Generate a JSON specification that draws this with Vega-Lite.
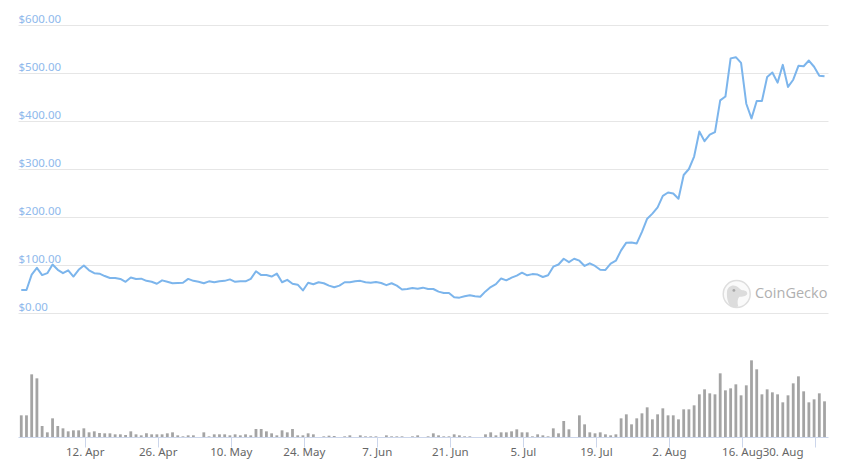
{
"$schema":"https://vega.github.io/schema/vega-lite/v6.json",
"background":"white",
"padding":{"left":18,"top":13,"right":15,"bottom":5},
"config":{"view":{"stroke":null},"font":"Noto Sans"},
"spacing":44,
"datasets":{"logo":[{"date":"2020-08-15T00:00:00Z","price":39.6,"label":"CoinGecko"}],"eye":[{"date":"2020-08-14T11:00:00Z","price":47}],"logotext":[{"date":"2020-08-18T12:00:00Z","price":40,"label":"CoinGecko"}]},
"data":{"values":[
{"date":"2020-03-30T20:00:00Z","price":48,"volume":65},
{"date":"2020-03-31T20:00:00Z","price":48,"volume":65},
{"date":"2020-04-01T20:00:00Z","price":80,"volume":188},
{"date":"2020-04-02T20:00:00Z","price":94,"volume":176},
{"date":"2020-04-03T20:00:00Z","price":79,"volume":33},
{"date":"2020-04-04T20:00:00Z","price":83,"volume":14},
{"date":"2020-04-05T20:00:00Z","price":101,"volume":56},
{"date":"2020-04-06T20:00:00Z","price":90,"volume":33},
{"date":"2020-04-07T20:00:00Z","price":83,"volume":26},
{"date":"2020-04-08T20:00:00Z","price":89,"volume":17},
{"date":"2020-04-09T20:00:00Z","price":76,"volume":20},
{"date":"2020-04-10T20:00:00Z","price":90,"volume":20},
{"date":"2020-04-11T20:00:00Z","price":99,"volume":26},
{"date":"2020-04-12T20:00:00Z","price":89,"volume":14},
{"date":"2020-04-13T20:00:00Z","price":83,"volume":17},
{"date":"2020-04-14T20:00:00Z","price":82,"volume":12},
{"date":"2020-04-15T20:00:00Z","price":77,"volume":11},
{"date":"2020-04-16T20:00:00Z","price":73,"volume":11},
{"date":"2020-04-17T20:00:00Z","price":73,"volume":8},
{"date":"2020-04-18T20:00:00Z","price":71,"volume":8},
{"date":"2020-04-19T20:00:00Z","price":65,"volume":6},
{"date":"2020-04-20T20:00:00Z","price":74,"volume":17},
{"date":"2020-04-21T20:00:00Z","price":71,"volume":8},
{"date":"2020-04-22T20:00:00Z","price":71.5,"volume":5},
{"date":"2020-04-23T20:00:00Z","price":67,"volume":11},
{"date":"2020-04-24T20:00:00Z","price":65,"volume":8},
{"date":"2020-04-25T20:00:00Z","price":61,"volume":8},
{"date":"2020-04-26T20:00:00Z","price":68,"volume":8},
{"date":"2020-04-27T20:00:00Z","price":65,"volume":11},
{"date":"2020-04-28T20:00:00Z","price":62,"volume":14},
{"date":"2020-04-29T20:00:00Z","price":62.5,"volume":5},
{"date":"2020-04-30T20:00:00Z","price":63,"volume":2},
{"date":"2020-05-01T20:00:00Z","price":71,"volume":5},
{"date":"2020-05-02T20:00:00Z","price":67,"volume":5},
{"date":"2020-05-03T20:00:00Z","price":65,"volume":0},
{"date":"2020-05-04T20:00:00Z","price":62,"volume":14},
{"date":"2020-05-05T20:00:00Z","price":66,"volume":2},
{"date":"2020-05-06T20:00:00Z","price":64,"volume":8},
{"date":"2020-05-07T20:00:00Z","price":66,"volume":8},
{"date":"2020-05-08T20:00:00Z","price":67,"volume":8},
{"date":"2020-05-09T20:00:00Z","price":70,"volume":5},
{"date":"2020-05-10T20:00:00Z","price":65,"volume":8},
{"date":"2020-05-11T20:00:00Z","price":66,"volume":5},
{"date":"2020-05-12T20:00:00Z","price":66,"volume":8},
{"date":"2020-05-13T20:00:00Z","price":71,"volume":5},
{"date":"2020-05-14T20:00:00Z","price":87,"volume":24},
{"date":"2020-05-15T20:00:00Z","price":79,"volume":24},
{"date":"2020-05-16T20:00:00Z","price":79,"volume":17},
{"date":"2020-05-17T20:00:00Z","price":76,"volume":11},
{"date":"2020-05-18T20:00:00Z","price":82,"volume":5},
{"date":"2020-05-19T20:00:00Z","price":64,"volume":20},
{"date":"2020-05-20T20:00:00Z","price":69,"volume":14},
{"date":"2020-05-21T20:00:00Z","price":61,"volume":24},
{"date":"2020-05-22T20:00:00Z","price":59,"volume":5},
{"date":"2020-05-23T20:00:00Z","price":47,"volume":5},
{"date":"2020-05-24T20:00:00Z","price":63,"volume":11},
{"date":"2020-05-25T20:00:00Z","price":60,"volume":8},
{"date":"2020-05-26T20:00:00Z","price":64,"volume":0},
{"date":"2020-05-27T20:00:00Z","price":62,"volume":2},
{"date":"2020-05-28T20:00:00Z","price":57,"volume":4},
{"date":"2020-05-29T20:00:00Z","price":53.5,"volume":3},
{"date":"2020-05-30T20:00:00Z","price":57,"volume":0},
{"date":"2020-05-31T20:00:00Z","price":64,"volume":2},
{"date":"2020-06-01T20:00:00Z","price":64,"volume":5},
{"date":"2020-06-02T20:00:00Z","price":66,"volume":0},
{"date":"2020-06-03T20:00:00Z","price":67,"volume":5},
{"date":"2020-06-04T20:00:00Z","price":64,"volume":2},
{"date":"2020-06-05T20:00:00Z","price":63,"volume":2},
{"date":"2020-06-06T20:00:00Z","price":64.5,"volume":2},
{"date":"2020-06-07T20:00:00Z","price":62.5,"volume":0},
{"date":"2020-06-08T20:00:00Z","price":58,"volume":5},
{"date":"2020-06-09T20:00:00Z","price":62,"volume":2},
{"date":"2020-06-10T20:00:00Z","price":57,"volume":2},
{"date":"2020-06-11T20:00:00Z","price":49,"volume":2},
{"date":"2020-06-12T20:00:00Z","price":50,"volume":0},
{"date":"2020-06-13T20:00:00Z","price":52,"volume":2},
{"date":"2020-06-14T20:00:00Z","price":50.7,"volume":5},
{"date":"2020-06-15T20:00:00Z","price":52.8,"volume":0},
{"date":"2020-06-16T20:00:00Z","price":50,"volume":2},
{"date":"2020-06-17T20:00:00Z","price":50,"volume":11},
{"date":"2020-06-18T20:00:00Z","price":44.5,"volume":5},
{"date":"2020-06-19T20:00:00Z","price":41.7,"volume":2},
{"date":"2020-06-20T20:00:00Z","price":41.7,"volume":2},
{"date":"2020-06-21T20:00:00Z","price":32.6,"volume":8},
{"date":"2020-06-22T20:00:00Z","price":32,"volume":5},
{"date":"2020-06-23T20:00:00Z","price":34.7,"volume":2},
{"date":"2020-06-24T20:00:00Z","price":36.8,"volume":2},
{"date":"2020-06-25T20:00:00Z","price":34.7,"volume":0},
{"date":"2020-06-26T20:00:00Z","price":34,"volume":0},
{"date":"2020-06-27T20:00:00Z","price":45,"volume":8},
{"date":"2020-06-28T20:00:00Z","price":54,"volume":14},
{"date":"2020-06-29T20:00:00Z","price":60,"volume":5},
{"date":"2020-06-30T20:00:00Z","price":72,"volume":14},
{"date":"2020-07-01T20:00:00Z","price":68,"volume":14},
{"date":"2020-07-02T20:00:00Z","price":73.6,"volume":17},
{"date":"2020-07-03T20:00:00Z","price":78,"volume":23},
{"date":"2020-07-04T20:00:00Z","price":84,"volume":14},
{"date":"2020-07-05T20:00:00Z","price":78.5,"volume":14},
{"date":"2020-07-06T20:00:00Z","price":81,"volume":2},
{"date":"2020-07-07T20:00:00Z","price":80,"volume":8},
{"date":"2020-07-08T20:00:00Z","price":75,"volume":5},
{"date":"2020-07-09T20:00:00Z","price":78.5,"volume":2},
{"date":"2020-07-10T20:00:00Z","price":96.5,"volume":26},
{"date":"2020-07-11T20:00:00Z","price":101,"volume":11},
{"date":"2020-07-12T20:00:00Z","price":113,"volume":48},
{"date":"2020-07-13T20:00:00Z","price":106,"volume":23},
{"date":"2020-07-14T20:00:00Z","price":113,"volume":0},
{"date":"2020-07-15T20:00:00Z","price":109,"volume":65},
{"date":"2020-07-16T20:00:00Z","price":98,"volume":38},
{"date":"2020-07-17T20:00:00Z","price":103.5,"volume":14},
{"date":"2020-07-18T20:00:00Z","price":98,"volume":11},
{"date":"2020-07-19T20:00:00Z","price":90,"volume":14},
{"date":"2020-07-20T20:00:00Z","price":89.6,"volume":8},
{"date":"2020-07-21T20:00:00Z","price":103,"volume":5},
{"date":"2020-07-22T20:00:00Z","price":109,"volume":8},
{"date":"2020-07-23T20:00:00Z","price":130.5,"volume":56},
{"date":"2020-07-24T20:00:00Z","price":146.5,"volume":68},
{"date":"2020-07-25T20:00:00Z","price":147,"volume":38},
{"date":"2020-07-26T20:00:00Z","price":145,"volume":56},
{"date":"2020-07-27T20:00:00Z","price":169,"volume":71},
{"date":"2020-07-28T20:00:00Z","price":196.5,"volume":89},
{"date":"2020-07-29T20:00:00Z","price":207,"volume":53},
{"date":"2020-07-30T20:00:00Z","price":220,"volume":68},
{"date":"2020-07-31T20:00:00Z","price":244,"volume":86},
{"date":"2020-08-01T20:00:00Z","price":251,"volume":65},
{"date":"2020-08-02T20:00:00Z","price":249,"volume":65},
{"date":"2020-08-03T20:00:00Z","price":238,"volume":53},
{"date":"2020-08-04T20:00:00Z","price":287.5,"volume":83},
{"date":"2020-08-05T20:00:00Z","price":300,"volume":83},
{"date":"2020-08-06T20:00:00Z","price":326,"volume":95},
{"date":"2020-08-07T20:00:00Z","price":378,"volume":128},
{"date":"2020-08-08T20:00:00Z","price":358,"volume":143},
{"date":"2020-08-09T20:00:00Z","price":371.5,"volume":131},
{"date":"2020-08-10T20:00:00Z","price":377,"volume":128},
{"date":"2020-08-11T20:00:00Z","price":443,"volume":191},
{"date":"2020-08-12T20:00:00Z","price":451,"volume":140},
{"date":"2020-08-13T20:00:00Z","price":530.5,"volume":146},
{"date":"2020-08-14T20:00:00Z","price":533,"volume":158},
{"date":"2020-08-15T20:00:00Z","price":521,"volume":125},
{"date":"2020-08-16T20:00:00Z","price":436,"volume":155},
{"date":"2020-08-17T20:00:00Z","price":405.5,"volume":230},
{"date":"2020-08-18T20:00:00Z","price":441.7,"volume":203},
{"date":"2020-08-19T20:00:00Z","price":441.7,"volume":128},
{"date":"2020-08-20T20:00:00Z","price":491.7,"volume":143},
{"date":"2020-08-21T20:00:00Z","price":501,"volume":134},
{"date":"2020-08-22T20:00:00Z","price":480,"volume":128},
{"date":"2020-08-23T20:00:00Z","price":517,"volume":104},
{"date":"2020-08-24T20:00:00Z","price":471,"volume":125},
{"date":"2020-08-25T20:00:00Z","price":486,"volume":161},
{"date":"2020-08-26T20:00:00Z","price":515,"volume":182},
{"date":"2020-08-27T20:00:00Z","price":514,"volume":137},
{"date":"2020-08-28T20:00:00Z","price":526,"volume":104},
{"date":"2020-08-29T20:00:00Z","price":513,"volume":113},
{"date":"2020-08-30T20:00:00Z","price":494.4,"volume":131},
{"date":"2020-08-31T20:00:00Z","price":493,"volume":107}
]},
"vconcat":[
{"width":810,"height":288,
"layer":[
{"mark":{"type":"line","stroke":"#7cb5ec","strokeWidth":2,"strokeJoin":"round"},
"encoding":{
"x":{"field":"date","type":"temporal","axis":null,"scale":{"type":"utc","nice":false,"padding":0,"domain":[1585544400000,1598961600000]}},
"y":{"field":"price","type":"quantitative","title":null,"scale":{"domain":[0,600],"nice":false},
"axis":{"values":[0,100,200,300,400,500,600],"format":"$.2f","grid":true,"gridColor":"#e6e6e6","gridWidth":1,"domain":false,"ticks":false,"tickSize":0,"labelAlign":"left","labelBaseline":"alphabetic","labelPadding":0,"labelOffset":-3,"labelColor":"#8fb9ec","labelFontSize":11.5,"labelFont":"Noto Sans"}}
}},
{"data":{"name":"logo"},"mark":{"type":"point","filled":true,"fill":"#fafafa","stroke":"#dedede","strokeWidth":1.5,"size":729,"shape":"circle","opacity":1},
"encoding":{"x":{"field":"date","type":"temporal"},"y":{"field":"price","type":"quantitative"}}},
{"data":{"name":"logo"},"mark":{"type":"point","filled":true,"fill":"#dcdcdc","size":729,"strokeWidth":0,"opacity":1,"shape":"M-0.45,0.92 C-0.7,0.6 -0.75,0.2 -0.72,-0.2 C-0.68,-0.55 -0.35,-0.72 -0.05,-0.6 C0.15,-0.52 0.25,-0.35 0.35,-0.3 C0.6,-0.28 0.8,-0.2 0.78,-0.02 C0.75,0.15 0.45,0.22 0.2,0.2 C0.05,0.35 0.02,0.65 0.12,0.92 C-0.1,1 -0.3,1 -0.45,0.92 Z"},
"encoding":{"x":{"field":"date","type":"temporal"},"y":{"field":"price","type":"quantitative"}}},
{"data":{"name":"eye"},"mark":{"type":"point","filled":true,"fill":"#a8a8a8","size":8,"opacity":1,"strokeWidth":0,"shape":"circle"},
"encoding":{"x":{"field":"date","type":"temporal"},"y":{"field":"price","type":"quantitative"}}},
{"data":{"name":"logotext"},"mark":{"type":"text","align":"left","baseline":"middle","font":"Open Sans","fontSize":14.5,"fill":"#b0b0b0"},
"encoding":{"x":{"field":"date","type":"temporal"},"y":{"field":"price","type":"quantitative"},"text":{"field":"label"}}}
]},
{"width":810,"height":80,
"mark":{"type":"bar","size":2.8,"color":"#a4a4a4"},
"encoding":{
"x":{"field":"date","type":"temporal","title":null,"scale":{"type":"utc","nice":false,"padding":0,"domain":[1585544400000,1598961600000]},
"axis":{"values":[{"year":2020,"month":4,"date":12,"utc":true},{"year":2020,"month":4,"date":26,"utc":true},{"year":2020,"month":5,"date":10,"utc":true},{"year":2020,"month":5,"date":24,"utc":true},{"year":2020,"month":6,"date":7,"utc":true},{"year":2020,"month":6,"date":21,"utc":true},{"year":2020,"month":7,"date":5,"utc":true},{"year":2020,"month":7,"date":19,"utc":true},{"year":2020,"month":8,"date":2,"utc":true},{"year":2020,"month":8,"date":16,"utc":true},{"year":2020,"month":8,"date":30,"utc":true}],
"format":"%-d. %b","grid":false,"domainColor":"#ccd6eb","domainWidth":1,"tickColor":"#ccd6eb","tickSize":10,"tickWidth":1,"labelColor":"#666666","labelFontSize":11.5,"labelFont":"Noto Sans","labelPadding":-1,"labelFlush":15,"labelFlushOffset":-12,"labelOverlap":false}},
"y":{"field":"volume","type":"quantitative","axis":null,"scale":{"domain":[0,240],"nice":false}}
}}
]
}
